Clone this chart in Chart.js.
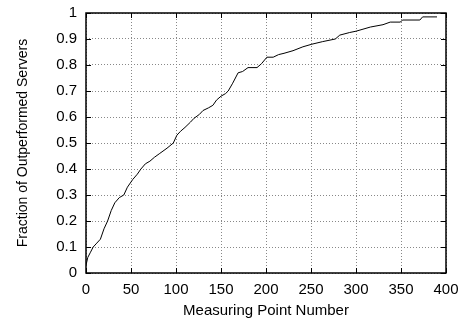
<!DOCTYPE html>
<html>
<head>
<meta charset="utf-8">
<script src="https://cdn.jsdelivr.net/npm/chart.js@4"></script>
<style>
  html,body{margin:0;padding:0;background:#fff;}
  #wrap{width:463px;height:324px;}
</style>
</head>
<body>
<div id="wrap"><canvas id="c"></canvas></div>
<script>
// measuring point number vs fraction of outperformed servers
const pointNumbers = [0,2,5,8,12,16,20,24,28,32,37,42,46,52,57,61,66,71,76,82,90,97,101,105,110,116,120,126,130,136,141,145,150,155,158,163,169,174,180,190,195,201,208,214,220,230,241,251,263,277,282,293,300,316,330,338,349,352,371,374,390];
const fractions = [0.03,0.06,0.08,0.10,0.115,0.13,0.17,0.20,0.24,0.27,0.29,0.30,0.33,0.36,0.38,0.40,0.42,0.43,0.445,0.46,0.48,0.50,0.53,0.545,0.56,0.58,0.595,0.61,0.625,0.635,0.645,0.665,0.68,0.69,0.70,0.73,0.77,0.775,0.79,0.79,0.805,0.83,0.83,0.84,0.845,0.855,0.87,0.88,0.89,0.90,0.915,0.925,0.93,0.946,0.955,0.965,0.965,0.973,0.973,0.985,0.985];
const xTicks = [0,50,100,150,200,250,300,350,400];
const yTicks = [0,0.1,0.2,0.3,0.4,0.5,0.6,0.7,0.8,0.9,1];

const pts = pointNumbers.map((x,i)=>({x:x, y:fractions[i]}));
const FONT = 'Liberation Sans, Arial, Helvetica';

// gnuplot style: box border + inward ticks on all sides
const boxTicks = {
  id:'boxTicks',
  afterDraw(chart){
    const {ctx, chartArea:a, scales:{x,y}} = chart;
    ctx.save();
    ctx.strokeStyle='#000'; ctx.lineWidth=1;
    ctx.beginPath();
    xTicks.forEach(v=>{
      const px=Math.round(x.getPixelForValue(v))+0.5;
      ctx.moveTo(px,a.bottom); ctx.lineTo(px,a.bottom-5);
      ctx.moveTo(px,a.top); ctx.lineTo(px,a.top+5);
    });
    yTicks.forEach(v=>{
      const py=Math.round(y.getPixelForValue(v))+0.5;
      ctx.moveTo(a.left,py); ctx.lineTo(a.left+5,py);
      ctx.moveTo(a.right,py); ctx.lineTo(a.right-5,py);
    });
    ctx.stroke();
    ctx.lineWidth=1.5;
    ctx.strokeRect(a.left,a.top,a.right-a.left,a.bottom-a.top);
    ctx.restore();
  }
};

new Chart(document.getElementById('c'), {
  type:'line',
  data:{datasets:[{data:pts, borderColor:'#000', borderWidth:1, pointRadius:0, tension:0, fill:false}]},
  options:{
    responsive:true, maintainAspectRatio:false, animation:false,
    layout:{padding:{left:0, top:13, right:17, bottom:0}},
    plugins:{legend:{display:false}, tooltip:{enabled:false}},
    scales:{
      x:{
        type:'linear', min:0, max:400,
        afterBuildTicks(s){ s.ticks = xTicks.map(v=>({value:v})); },
        afterFit(s){ s.height = 51; s.paddingLeft = 0; s.paddingRight = 0; },
        grid:{color:'#888', drawTicks:false},
        border:{display:false, dash:[1,2]},
        ticks:{color:'#000', padding:8, maxRotation:0, font:{family:FONT, size:15}},
        title:{display:true, text:'Measuring Point Number', color:'#000', padding:{top:0,bottom:4}, font:{family:FONT, size:15}}
      },
      y:{
        type:'linear', min:0, max:1,
        afterBuildTicks(s){ s.ticks = yTicks.map(v=>({value:v})); },
        afterFit(s){ s.width = 86; s.paddingTop = 0; s.paddingBottom = 0; },
        grid:{color:'#888', drawTicks:false},
        border:{display:false, dash:[1,2]},
        ticks:{color:'#000', padding:9, font:{family:FONT, size:15}, callback:v=>String(Math.round(v*10)/10)},
        title:{display:true, text:'Fraction of Outperformed Servers', color:'#000', padding:{top:15,bottom:0}, font:{family:FONT, size:14}}
      }
    }
  },
  plugins:[boxTicks]
});
</script>
</body>
</html>
